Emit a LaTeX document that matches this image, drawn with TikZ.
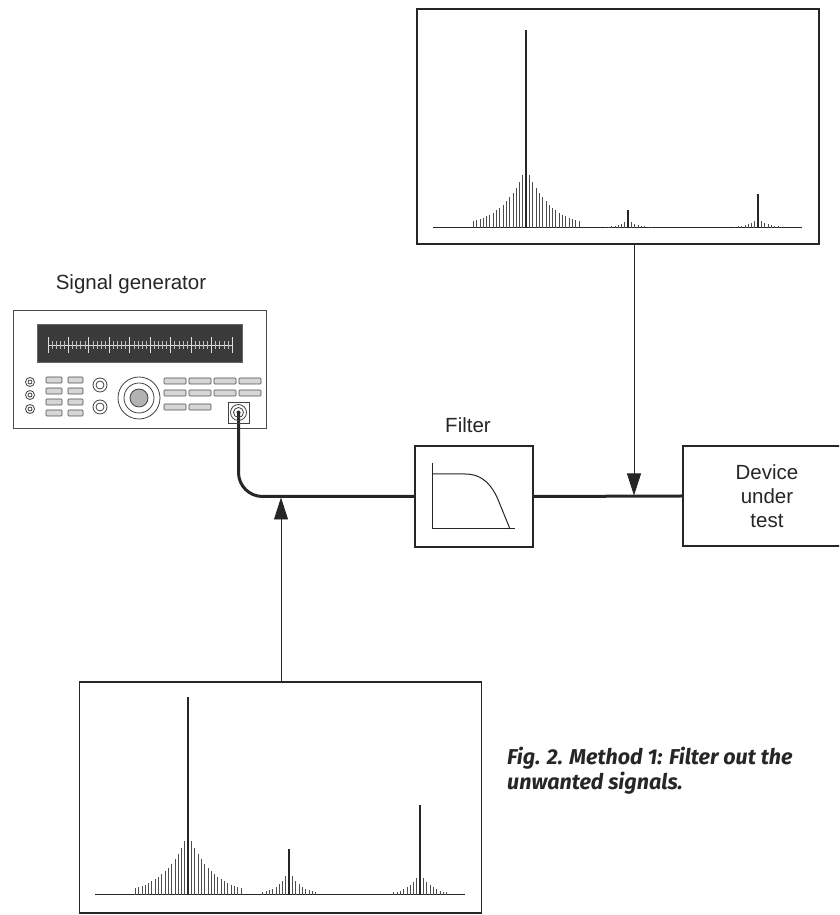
\documentclass[tikz,border=0pt]{standalone}
\usepackage{fontspec}
\setmainfont{Liberation Sans}
\newfontfamily\capfont{Fira Sans}
\usetikzlibrary{arrows.meta}
\usetikzlibrary{positioning}
\usetikzlibrary{calc}

\definecolor{ink}{HTML}{262626}
\definecolor{screen}{HTML}{3A3A3A}
\definecolor{keyfill}{HTML}{D6D6D6}

% sideband bars around a carrier: x, base y, envelope height, bars per side
\newcommand{\sidebands}[4]{%
  \foreach \k in {-#4,...,#4}{
    \pgfmathsetmacro{\h}{#3*exp(-2.2*abs(\k)/#4)}
    \draw[sideband] ({#1+3.3*(\k)},#2) -- ++(0,\h);
  }%
}

\begin{document}
\begin{tikzpicture}[x=1pt,y=1pt,
    box/.style={draw=ink,line width=1.1pt,inner sep=0pt},
    specbox/.style={box,minimum width=402pt,minimum height=235pt},
    lbl/.style={font=\fontsize{20.5}{24}\selectfont,text=ink,inner sep=0pt},
    cable/.style={draw=ink,line width=3pt},
    feed/.style={draw=ink,line width=0.9pt,shorten >=1pt,-{Triangle[length=22pt,width=14pt]}},
    axisline/.style={draw=ink,line width=1pt},
    sideband/.style={draw=black!70,line width=0.6pt},
    spike/.style={draw=ink,line width=1.8pt},
    keycap/.style={draw=black!70,fill=keyfill,line width=0.6pt,rounded corners=0.8pt},
    knob/.style={draw=black!75,line width=0.8pt}]

   \useasboundingbox (0,0) rectangle (839,915);
   \clip (0,0) rectangle (839,915);

   % spectrum boxes
   \node[specbox] (filtered) at (618,788.5) {};
   \node[specbox, minimum height=231pt] (raw) at (280.5,117.5) {};

   % signal generator
   \node[box, draw=black!70, line width=0.9pt, minimum width=253pt, minimum height=118pt] (gen) at (139.5,546) {};
   \node[lbl, anchor=base] (genlabel) at (131,625) {Signal generator};

   % filter and device under test
   \node[box, minimum width=118pt, minimum height=101pt] (filter) at (474,418.5) {};
   \node[lbl, anchor=base] (filterlabel) at (468,482) {Filter};
   \node[box, lbl, draw=ink, line width=1.1pt, minimum width=168pt, minimum height=100pt, align=center] (dut) at (767,419) {Device\\under\\test};

   \coordinate (rfout) at (238.5,502.5);
   \coordinate (inj) at (281,418.5);
   \coordinate (tap) at (634,418.5);

   % connections
   \draw[cable, rounded corners=24pt] (rfout) |- (filter.west);
   \draw[cable] (filter.east) -- (dut.west);
   \draw[feed] (inj |- raw.north) -- (inj);
   \draw[feed] (tap |- filtered.south) -- (tap);

   % generator front panel
   \fill[screen] (37,553) rectangle (242,591);
   \draw[black!60, line width=0.6pt] (37,553) rectangle (242,591);
   \draw[black!12, line width=0.8pt] (48,570) -- (232,570);
   \foreach \i in {0,...,9}
     \draw[black!12, line width=0.8pt] ({48+20.44*\i},562) -- ++(0,16);
   \foreach \i in {0,...,8}
     \foreach \j in {1,...,4}
       \draw[black!25, line width=0.5pt] ({48+20.44*\i+4.09*\j},566) -- ++(0,8);
   \foreach \y in {533,520,506} {
     \draw[knob] (30,\y) circle (4.5pt);
     \draw[knob] (30,\y) circle (2pt);
   }
   \foreach \y in {535,524,513,502} {
     \draw[keycap] (46,\y-3) rectangle (62,\y+3);
     \draw[keycap] (68,\y-3) rectangle (83,\y+3);
   }
   \foreach \y in {530,508} {
     \draw[knob] (100,\y) circle (7pt);
     \draw[knob] (100,\y) circle (4pt);
   }
   \draw[knob] (139,517) circle (21pt);
   \draw[knob] (139,517) circle (15pt);
   \filldraw[knob, fill=black!30] (139,517) circle (9pt);
   \foreach \x in {164,189,214,239}
     \foreach \y in {534,522}
       \draw[keycap] (\x,\y-3) rectangle (\x+22,\y+3);
   \foreach \x in {164,189}
     \draw[keycap] (\x,505) rectangle (\x+22,511);
   \draw[knob] (228,492) rectangle (249,513);
   \draw[knob] (rfout) circle (8pt);
   \draw[knob] (rfout) circle (5pt);
   \fill[ink] (rfout) circle (2pt);

   % low-pass response
   \draw[ink, line width=1pt] (432,452) -- (432,386) -- (515,386);
   \draw[ink, line width=1pt] (432,441) -- (465,441) .. controls (484,441) and (493,428) .. (499,413) -- (510,386);

   % spectrum after the filter
   \draw[axisline] (433,687) -- (802,687);
   \sidebands{526}{687}{61}{16}
   \sidebands{628}{687}{8}{7}
   \sidebands{758}{687}{10}{7}
   \draw[spike] (526,687) -- ++(0,198);
   \draw[spike, line width=1.2pt] (628,687) -- ++(0,18);
   \draw[spike, line width=1.2pt] (758,687) -- ++(0,34);

   % spectrum straight from the generator
   \draw[axisline] (95,20) -- (465,20);
   \sidebands{188}{20}{62}{16}
   \sidebands{289}{20}{25}{8}
   \sidebands{420}{20}{23}{8}
   \draw[spike] (188,20) -- ++(0,198);
   \draw[spike, line width=1.2pt] (289,20) -- ++(0,46);
   \draw[spike, line width=1.2pt] (420,20) -- ++(0,90);

   \node[anchor=north west, font=\capfont\bfseries\itshape\fontsize{21.5}{25}\selectfont, text=ink, align=left, inner sep=0pt] (caption) at (507,168) {Fig. 2. Method 1: Filter out the\\unwanted signals.};
\end{tikzpicture}
\end{document}
